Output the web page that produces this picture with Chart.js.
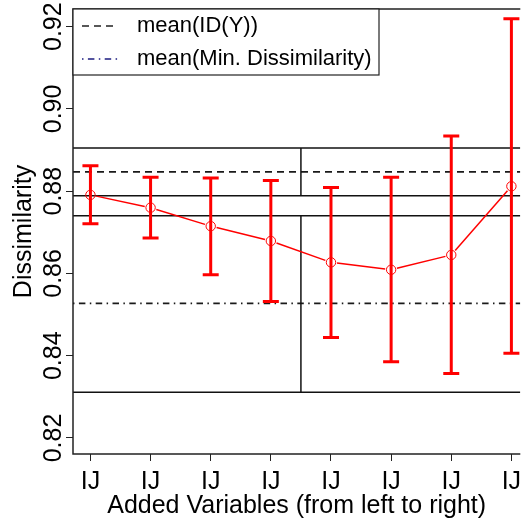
<html>
<head>
<script src="https://cdn.jsdelivr.net/npm/chart.js@4.4.0/dist/chart.umd.min.js"></script>
<style>
    body { margin: 0; background: #ffffff; overflow: hidden; }
    #myChart { display: block; }
</style>
</head>
<body>
<canvas id="myChart" width="526" height="520"></canvas>
<script>
    // values
    const categories = ['IJ', 'IJ', 'IJ', 'IJ', 'IJ', 'IJ', 'IJ', 'IJ'];
    const meanValues = [0.8791, 0.8760, 0.8715, 0.8679, 0.8627, 0.8609, 0.8645, 0.8812];
    const upperValues = [0.8862, 0.8834, 0.8832, 0.8826, 0.8809, 0.8834, 0.8934, 0.9219];
    const lowerValues = [0.8721, 0.8686, 0.8597, 0.8532, 0.8444, 0.8385, 0.8357, 0.8406];
    const yTicks = [0.82, 0.84, 0.86, 0.88, 0.90, 0.92];

    const meanIdY = 0.8847;
    const meanMinDiss = 0.8527;
    const bandUpper = [0.8905, 0.8789];
    const bandLower = [0.8740, 0.8311];
    const bandSplit = 4.5;
    const legendLabels = ['mean(ID(Y))', 'mean(Min. Dissimilarity)'];

    const FONT = "'Liberation Sans', Arial, sans-serif";
    const RED = '#ff0000';
    const DASHED = [7, 5];
    const DOTDASH = [1.5, 4.4, 6.5, 4.4];

    function hline(ctx, area, y, dash, color, width) {
        ctx.save();
        ctx.strokeStyle = color;
        ctx.lineWidth = width;
        ctx.setLineDash(dash);
        ctx.beginPath();
        ctx.moveTo(area.left, y);
        ctx.lineTo(area.right, y);
        ctx.stroke();
        ctx.restore();
    }

    const refLines = {
        id: 'refLines',
        beforeDatasetsDraw(chart) {
            const ctx = chart.ctx, area = chart.chartArea;
            const xs = chart.scales.x, ys = chart.scales.y;
            ctx.save();
            ctx.beginPath();
            ctx.rect(area.left, area.top, area.right - area.left, area.bottom - area.top);
            ctx.clip();

            bandUpper.concat(bandLower).forEach(v => hline(ctx, area, ys.getPixelForValue(v), [], '#111', 1.5));
            hline(ctx, area, ys.getPixelForValue(meanIdY), DASHED, '#1a1a1a', 1.7);
            hline(ctx, area, ys.getPixelForValue(meanMinDiss), DOTDASH, '#1a1a1a', 1.7);

            // vertical splits of the two boxes
            const sx = xs.getPixelForValue(bandSplit);
            ctx.strokeStyle = '#111';
            ctx.lineWidth = 1.5;
            ctx.beginPath();
            ctx.moveTo(sx, ys.getPixelForValue(bandUpper[0]));
            ctx.lineTo(sx, ys.getPixelForValue(bandUpper[1]));
            ctx.moveTo(sx, ys.getPixelForValue(bandLower[0]));
            ctx.lineTo(sx, ys.getPixelForValue(bandLower[1]));
            ctx.stroke();

            // error bars
            ctx.strokeStyle = RED;
            ctx.lineWidth = 3;
            ctx.lineCap = 'butt';
            for (let i = 0; i < meanValues.length; i++) {
                const px = xs.getPixelForValue(i + 1);
                const top = ys.getPixelForValue(upperValues[i]);
                const bot = ys.getPixelForValue(lowerValues[i]);
                ctx.beginPath();
                ctx.moveTo(px, top);
                ctx.lineTo(px, bot);
                ctx.moveTo(px - 8, top);
                ctx.lineTo(px + 8, top);
                ctx.moveTo(px - 8, bot);
                ctx.lineTo(px + 8, bot);
                ctx.stroke();
            }

            // connecting line with gaps around the points (type = "b")
            ctx.lineWidth = 1.5;
            for (let i = 0; i < meanValues.length - 1; i++) {
                const x1 = xs.getPixelForValue(i + 1), y1 = ys.getPixelForValue(meanValues[i]);
                const x2 = xs.getPixelForValue(i + 2), y2 = ys.getPixelForValue(meanValues[i + 1]);
                const len = Math.hypot(x2 - x1, y2 - y1);
                const g = 6 / len;
                ctx.beginPath();
                ctx.moveTo(x1 + (x2 - x1) * g, y1 + (y2 - y1) * g);
                ctx.lineTo(x2 - (x2 - x1) * g, y2 - (y2 - y1) * g);
                ctx.stroke();
            }
            ctx.restore();
        },
        afterDraw(chart) {
            const ctx = chart.ctx, area = chart.chartArea;
            const ys = chart.scales.y;

            // box (right side runs off the picture)
            ctx.save();
            ctx.strokeStyle = '#222';
            ctx.lineWidth = 1.5;
            ctx.beginPath();
            ctx.moveTo(area.right, area.top);
            ctx.lineTo(area.left, area.top);
            ctx.lineTo(area.left, area.bottom);
            ctx.lineTo(area.right, area.bottom);
            ctx.stroke();

            // rotated y tick labels
            ctx.fillStyle = '#000';
            ctx.font = '25px ' + FONT;
            ctx.textAlign = 'center';
            ctx.textBaseline = 'alphabetic';
            yTicks.forEach(v => {
                ctx.save();
                ctx.translate(area.left - 12, ys.getPixelForValue(v));
                ctx.rotate(-Math.PI / 2);
                ctx.fillText(v.toFixed(2), 0, 0);
                ctx.restore();
            });

            // legend
            const lx = area.left, ly = area.top, lw = 306, lh = 66;
            ctx.fillStyle = '#fff';
            ctx.fillRect(lx, ly, lw, lh);
            ctx.strokeStyle = '#222';
            ctx.lineWidth = 1.2;
            ctx.strokeRect(lx, ly, lw, lh);
            const rows = [ly + 17, ly + 50];
            const dashes = [DASHED, DOTDASH];
            const colors = ['#222', '#1c1c80'];
            ctx.font = '22px ' + FONT;
            ctx.textAlign = 'left';
            ctx.textBaseline = 'middle';
            legendLabels.forEach((label, i) => {
                ctx.save();
                ctx.strokeStyle = colors[i];
                ctx.lineWidth = 1.5;
                ctx.setLineDash(dashes[i]);
                ctx.beginPath();
                ctx.moveTo(lx + 9, rows[i]);
                ctx.lineTo(lx + 45, rows[i]);
                ctx.stroke();
                ctx.restore();
                ctx.fillStyle = '#000';
                ctx.fillText(label, lx + 64, rows[i]);
            });
            ctx.restore();
        }
    };

    new Chart('myChart', {
        type: 'scatter',
        data: {
            datasets: [{
                data: meanValues.map((v, i) => ({ x: i + 1, y: v })),
                showLine: false,
                pointRadius: 4.7,
                pointHoverRadius: 4.7,
                pointBorderWidth: 1,
                pointBorderColor: RED,
                pointBackgroundColor: 'rgba(0,0,0,0)'
            }]
        },
        options: {
            responsive: false,
            devicePixelRatio: 1,
            animation: false,
            layout: { padding: { top: 9, left: 0, right: 0, bottom: 0 } },
            plugins: { legend: { display: false }, tooltip: { enabled: false } },
            scales: {
                x: {
                    type: 'linear',
                    min: 0.71,
                    max: 8.148,
                    afterBuildTicks: s => { s.ticks = categories.map((c, i) => ({ value: i + 1 })); },
                    afterFit: s => { s.height = 66; s.paddingLeft = 0; s.paddingRight = 0; },
                    border: { display: false },
                    grid: { drawOnChartArea: false, drawTicks: true, tickLength: 7, color: '#222', lineWidth: 1 },
                    ticks: {
                        color: '#000',
                        font: { family: FONT, size: 25 },
                        padding: 6,
                        maxRotation: 0,
                        autoSkip: false,
                        callback: (v, i) => categories[i]
                    },
                    title: {
                        display: true,
                        text: 'Added Variables (from left to right)',
                        color: '#000',
                        font: { family: FONT, size: 25, lineHeight: 1.0 },
                        padding: { top: 0, bottom: 1 }
                    }
                },
                y: {
                    min: 0.8161,
                    max: 0.9243,
                    afterBuildTicks: s => { s.ticks = yTicks.map(v => ({ value: v })); },
                    afterFit: s => { s.width = 73; s.paddingTop = 0; s.paddingBottom = 0; },
                    border: { display: false },
                    grid: { drawOnChartArea: false, drawTicks: true, tickLength: 7, color: '#222', lineWidth: 1 },
                    ticks: { display: false },
                    title: {
                        display: true,
                        text: 'Dissimilarity',
                        color: '#000',
                        font: { family: FONT, size: 25 },
                        padding: { top: 9, bottom: 0 }
                    }
                }
            }
        },
        plugins: [refLines]
    });
</script>
</body>
</html>
